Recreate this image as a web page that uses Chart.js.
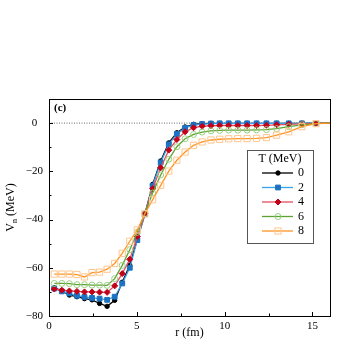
<!DOCTYPE html>
<html>
<head>
<meta charset="utf-8">
<script src="https://cdn.jsdelivr.net/npm/chart.js@4.4.0/dist/chart.umd.min.js"></script>
<style>
  html, body { margin: 0; padding: 0; background: #fff; }
</style>
</head>
<body>
<canvas id="myChart" width="343" height="343"></canvas>
<script>
// radial mesh (fm)
var r = [0.3, 0.73, 1.16, 1.59, 2.02, 2.45, 2.88, 3.31, 3.74, 4.17, 4.6, 5.03, 5.46, 5.9, 6.36, 6.82,
         7.28, 7.75, 8.23, 8.72, 9.22, 9.72, 10.23, 10.75, 11.28, 11.82, 12.38, 12.96, 13.65, 14.4, 15.2, 16.0];

// V_n (MeV) for each temperature
var vT0 = [-68.3, -69.5, -71.3, -72.0, -72.8, -73.3, -74.8, -76.0, -73.5, -66.0, -59.0, -48.0, -37.8, -25.4, -15.7, -8.2,
           -4.0, -1.6, -0.5, -0.2, -0.1, -0.1, -0.1, -0.1, -0.1, -0.1, -0.1, -0.1, -0.1, -0.1, 0.0, 0.0];
var vT2 = [-68.6, -69.8, -70.6, -71.6, -72.1, -72.5, -72.8, -73.3, -72.0, -66.5, -60.0, -48.5, -37.8, -26.0, -16.3, -8.8,
           -4.5, -2.0, -0.8, -0.4, -0.2, -0.1, -0.1, -0.1, -0.1, -0.1, -0.1, -0.1, -0.1, -0.1, 0.0, 0.0];
var vT4 = [-68.8, -69.3, -69.6, -69.8, -70.0, -70.0, -70.1, -70.2, -67.5, -62.4, -56.5, -47.0, -37.6, -27.2, -18.5, -11.2,
           -6.8, -3.6, -1.9, -1.3, -1.1, -1.0, -1.0, -1.0, -1.0, -1.0, -0.9, -0.7, -0.5, -0.3, -0.1, 0.0];
var vT6 = [-66.5, -66.5, -66.6, -67.0, -67.0, -67.2, -67.2, -67.3, -64.5, -59.0, -52.5, -45.3, -37.5, -29.0, -21.5, -15.0,
           -9.8, -6.5, -4.7, -3.7, -3.2, -3.0, -2.9, -2.9, -2.9, -2.8, -2.7, -2.3, -1.5, -0.7, -0.2, 0.0];
var vT8 = [-62.6, -62.6, -62.6, -62.8, -63.8, -62.0, -61.8, -60.6, -58.2, -54.0, -49.0, -44.3, -37.6, -31.8, -25.8, -19.9,
           -15.4, -12.0, -9.2, -7.8, -7.0, -6.7, -6.5, -6.4, -6.4, -6.3, -6.0, -5.0, -3.6, -1.5, -0.2, 0.0];

var temps = ['0', '2', '4', '6', '8'];
var xTicks = [0, 5, 10, 15];
var xMinor = [2.5, 7.5, 12.5];
var yTicks = [-80, -60, -40, -20, 0];
var yMinor = [-70, -50, -30, -10];
var refX = [0, 16];
var refY = [0, 0];

var SERIF = '"Liberation Serif", "DejaVu Serif", serif';

var styles = [
  { line: '#000000', point: '#000000', fill: '#000000', shape: 'circle', radius: 2.2 },
  { line: '#3aa2e8', point: '#1c72c2', fill: '#1c72c2', shape: 'rect', radius: 3.4 },
  { line: '#e2505e', point: '#c2001a', fill: '#c2001a', shape: 'rectRot', radius: 3.0 },
  { line: '#5ea232', point: '#98d080', fill: 'rgba(255,255,255,0)', shape: 'circle', radius: 3.0 },
  { line: '#ff9422', point: '#ffc68e', fill: 'rgba(255,255,255,0)', shape: 'rect', radius: 4.4 }
];

function pts(xs, ys) {
  return xs.map(function (x, i) { return { x: x, y: ys[i] }; });
}

function fmt(v) {
  return v < 0 ? '\u2212' + Math.abs(v) : String(v);
}

var series = [vT0, vT2, vT4, vT6, vT8];
var datasets = series.map(function (vals, i) {
  var s = styles[i];
  return {
    label: temps[i],
    data: pts(r, vals),
    borderColor: s.line,
    borderWidth: 1.3,
    pointStyle: s.shape,
    // last mesh point sits on the frame edge, no marker there
    pointRadius: function (c) { return c.dataIndex === r.length - 1 ? 0 : s.radius; },
    pointBackgroundColor: s.fill,
    pointBorderColor: s.point,
    pointBorderWidth: 1,
    tension: 0,
    order: 4 - i
  };
});
datasets.push({
  label: 'zero',
  data: pts(refX, refY),
  borderColor: '#444',
  borderWidth: 0.8,
  borderDash: [1, 1.5],
  pointRadius: 0,
  order: 10
});

function marker(ctx, s, x, y) {
  ctx.save();
  ctx.fillStyle = s.fill;
  ctx.strokeStyle = s.point;
  ctx.lineWidth = 1;
  ctx.beginPath();
  if (s.shape === 'circle') {
    ctx.arc(x, y, s.radius, 0, Math.PI * 2);
  } else if (s.shape === 'rect') {
    var h = s.radius * Math.SQRT1_2;
    ctx.rect(x - h, y - h, 2 * h, 2 * h);
  } else {
    ctx.moveTo(x, y - s.radius);
    ctx.lineTo(x + s.radius, y);
    ctx.lineTo(x, y + s.radius);
    ctx.lineTo(x - s.radius, y);
    ctx.closePath();
  }
  ctx.fill();
  ctx.stroke();
  ctx.restore();
}

var decor = {
  id: 'decor',
  afterDraw: function (chart) {
    var ctx = chart.ctx, ca = chart.chartArea;
    var xs = chart.scales.x, ys = chart.scales.y;
    ctx.save();
    // frame
    ctx.strokeStyle = '#000';
    ctx.lineWidth = 1;
    ctx.strokeRect(Math.round(ca.left) + 0.5, Math.round(ca.top) + 0.5,
                   Math.round(ca.right - ca.left), Math.round(ca.bottom - ca.top));
    // inward ticks
    ctx.beginPath();
    xTicks.forEach(function (v) { var p = Math.round(xs.getPixelForValue(v)) + 0.5; ctx.moveTo(p, ca.bottom); ctx.lineTo(p, ca.bottom - 4); });
    xMinor.forEach(function (v) { var p = Math.round(xs.getPixelForValue(v)) + 0.5; ctx.moveTo(p, ca.bottom); ctx.lineTo(p, ca.bottom - 2.5); });
    yTicks.forEach(function (v) { var p = Math.round(ys.getPixelForValue(v)) + 0.5; ctx.moveTo(ca.left, p); ctx.lineTo(ca.left + 4, p); });
    yMinor.forEach(function (v) { var p = Math.round(ys.getPixelForValue(v)) + 0.5; ctx.moveTo(ca.left, p); ctx.lineTo(ca.left + 2.5, p); });
    ctx.stroke();

    ctx.fillStyle = '#000';
    // panel label
    ctx.font = 'bold 11px ' + SERIF;
    ctx.textAlign = 'left';
    ctx.textBaseline = 'middle';
    ctx.fillText('(c)', ca.left + 5, ca.top + 9);

    // x title
    ctx.font = '12px ' + SERIF;
    ctx.textAlign = 'center';
    ctx.textBaseline = 'middle';
    ctx.fillText('r (fm)', (ca.left + ca.right) / 2, 333);

    // y title with subscript
    ctx.save();
    ctx.translate(11, (ca.top + ca.bottom) / 2);
    ctx.rotate(-Math.PI / 2);
    ctx.textAlign = 'left';
    ctx.textBaseline = 'middle';
    ctx.font = '12px ' + SERIF;
    var wV = ctx.measureText('V').width;
    var wRest = ctx.measureText(' (MeV)').width;
    ctx.font = '8px ' + SERIF;
    var wN = ctx.measureText('n').width;
    var x0 = -(wV + wN + wRest) / 2;
    ctx.font = '12px ' + SERIF;
    ctx.fillText('V', x0, 0);
    ctx.font = '8px ' + SERIF;
    ctx.fillText('n', x0 + wV, 4);
    ctx.font = '12px ' + SERIF;
    ctx.fillText(' (MeV)', x0 + wV + wN, 0);
    ctx.restore();

    // legend box
    var bx = 247, by = 150, bw = 66, bh = 93;
    ctx.fillStyle = '#fff';
    ctx.fillRect(bx, by, bw, bh);
    ctx.strokeStyle = '#555';
    ctx.lineWidth = 1;
    ctx.strokeRect(bx + 0.5, by + 0.5, bw, bh);
    ctx.fillStyle = '#000';
    ctx.font = '12px ' + SERIF;
    ctx.textAlign = 'center';
    ctx.fillText('T (MeV)', bx + bw / 2, by + 9);
    temps.forEach(function (t, i) {
      var s = styles[i];
      var y = by + 23 + i * 14.5;
      ctx.strokeStyle = s.line;
      ctx.lineWidth = 1.3;
      ctx.beginPath();
      ctx.moveTo(bx + 15, y);
      ctx.lineTo(bx + 46, y);
      ctx.stroke();
      marker(ctx, s, bx + 31, y);
      ctx.fillStyle = '#000';
      ctx.textAlign = 'left';
      ctx.fillText(t, bx + 51, y);
    });
    ctx.restore();
  }
};

var ctx = document.getElementById('myChart').getContext('2d');
var chart = new Chart(ctx, {
  type: 'line',
  data: { datasets: datasets },
  options: {
    responsive: false,
    animation: false,
    layout: { padding: { top: 99, right: 13, left: 0, bottom: 0 } },
    plugins: {
      legend: { display: false },
      tooltip: { enabled: false }
    },
    scales: {
      x: {
        type: 'linear',
        min: 0,
        max: 16,
        grid: { display: false, drawTicks: false },
        border: { display: false },
        afterBuildTicks: function (s) { s.ticks = xTicks.map(function (v) { return { value: v }; }); },
        afterFit: function (s) { s.height = 27; },
        ticks: {
          font: { family: SERIF, size: 11 },
          color: '#000',
          padding: 4,
          maxRotation: 0,
          autoSkip: false
        }
      },
      y: {
        type: 'linear',
        min: -80,
        max: 10,
        grid: { display: false, drawTicks: false },
        border: { display: false },
        afterBuildTicks: function (s) { s.ticks = yTicks.map(function (v) { return { value: v }; }); },
        afterFit: function (s) { s.width = 49; },
        ticks: {
          font: { family: SERIF, size: 11 },
          color: '#000',
          padding: 6,
          crossAlign: 'center',
          autoSkip: false,
          callback: function (v) { return fmt(v); }
        }
      }
    }
  },
  plugins: [decor]
});
</script>
</body>
</html>
